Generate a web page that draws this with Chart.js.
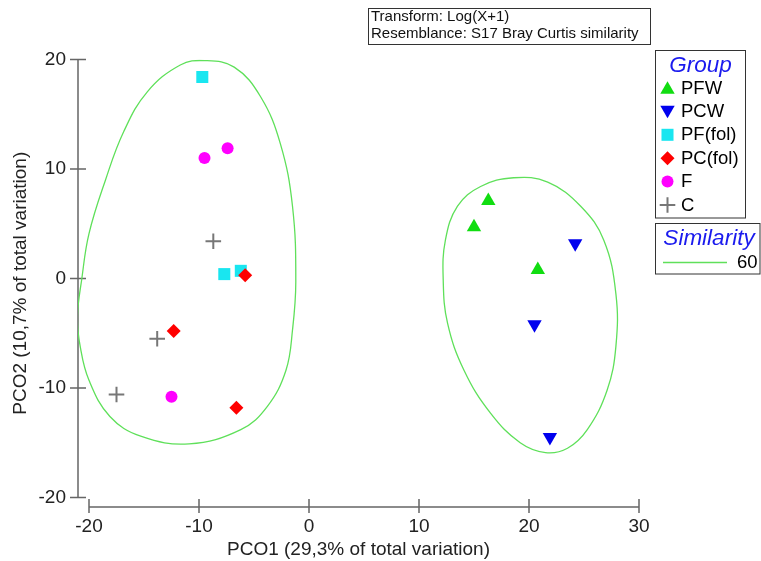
<!DOCTYPE html>
<html>
<head>
<meta charset="utf-8">
<title>PCO ordination</title>
<script src="https://cdn.jsdelivr.net/npm/chart.js@4.4.1/dist/chart.umd.min.js"></script>
<style>
  html, body { margin: 0; padding: 0; background: #fff; }
  #wrap { width: 761px; height: 561px; }
</style>
</head>
<body>
<div id="wrap"><canvas id="pco_chart" width="761" height="561"></canvas></div>
<script>
/* samples per group, [PCO1, PCO2] */
var groupNames = ['PFW', 'PCW', 'PF(fol)', 'PC(fol)', 'F', 'C'];
var pfwPoints = [[16.3, 7.1], [15.0, 4.7], [20.8, 0.8]];
var pcwPoints = [[24.2, 3.2], [20.5, -4.2], [21.9, -14.5]];
var pfFolPoints = [[-9.7, 18.4], [-7.7, 0.4], [-6.2, 0.7]];
var pcFolPoints = [[-5.8, 0.3], [-12.3, -4.8], [-6.6, -11.8]];
var fPoints = [[-9.5, 11.0], [-7.4, 11.9], [-12.5, -10.8]];
var cPoints = [[-8.7, 3.4], [-13.8, -5.5], [-17.5, -10.6]];

/* similarity contour (60) outlines, closed */
var contourLevel = 60;
var contourLeft = [[-9.5, 19.9], [-6.8, 19.3], [-4.4, 16.6], [-2.6, 12.3], [-1.5, 6.6], [-1.2, -0.3],
                   [-1.5, -4.7], [-2.1, -8.4], [-3.8, -11.7], [-6.2, -13.8], [-10.9, -15.1], [-15.3, -14.4],
                   [-18.1, -12.6], [-20.0, -9.3], [-20.8, -6.2], [-21.05, -3.5], [-20.65, 0.0], [-20.0, 4.1],
                   [-18.5, 9.0], [-16.85, 13.4], [-14.7, 17.05], [-11.7, 19.5]];
var contourRight = [[18.6, 9.2], [21.7, 8.8], [24.7, 6.6], [26.8, 3.5], [27.9, -1.4], [27.9, -6.2],
                    [27.1, -10.2], [25.3, -13.8], [23.5, -15.5], [21.5, -15.9], [19.2, -15.0], [16.5, -12.3],
                    [14.1, -8.4], [12.6, -4.1], [12.2, -0.1], [12.4, 3.5], [13.5, 6.6], [15.6, 8.4]];

var xTickValues = [-20, -10, 0, 10, 20, 30];
var yTickValues = [-20, -10, 0, 10, 20];
var infoLines = ['Transform: Log(X+1)', 'Resemblance: S17 Bray Curtis similarity'];

var fontFamily = "'Liberation Sans', Arial, sans-serif";
var contourColor = '#5fe05a';
var groupStyles = [
    { color: '#11dd11', pointStyle: 'triangle', radius: 8.3, rotation: 0, borderWidth: 0 },
    { color: '#0000ee', pointStyle: 'triangle', radius: 8.3, rotation: 180, borderWidth: 0 },
    { color: '#19e6f0', pointStyle: 'rect', radius: 8.5, rotation: 0, borderWidth: 0 },
    { color: '#ff0000', pointStyle: 'rectRot', radius: 7, rotation: 0, borderWidth: 0 },
    { color: '#ff00ff', pointStyle: 'circle', radius: 6, rotation: 0, borderWidth: 0 },
    { color: '#777777', pointStyle: 'cross', radius: 7.8, rotation: 0, borderWidth: 2 }
];
var groupPoints = [pfwPoints, pcwPoints, pfFolPoints, pcFolPoints, fPoints, cPoints];

function toXY(list) {
    return list.map(function (p) { return { x: p[0], y: p[1] }; });
}

// closed curve: wrap one point on each side and hide the two extra segments
function contourDataset(outline) {
    var n = outline.length;
    var pts = [outline[n - 1]].concat(outline, [outline[0], outline[1]]);
    var last = pts.length - 1;
    return {
        label: 'contour',
        data: toXY(pts),
        showLine: true,
        tension: 0.4,
        borderColor: contourColor,
        borderWidth: 1.3,
        pointRadius: 0,
        pointHoverRadius: 0,
        order: 20,
        segment: {
            borderColor: function (c) {
                return (c.p0DataIndex === 0 || c.p1DataIndex === last) ? 'rgba(0,0,0,0)' : undefined;
            }
        }
    };
}

// later groups drawn on top (higher order is drawn first)
var datasets = groupNames.map(function (name, i) {
    var s = groupStyles[i];
    return {
        label: name,
        data: toXY(groupPoints[i]),
        pointStyle: s.pointStyle,
        pointRadius: s.radius,
        pointHoverRadius: s.radius,
        pointRotation: s.rotation,
        pointBackgroundColor: s.color,
        pointBorderColor: s.color,
        pointBorderWidth: s.borderWidth,
        showLine: false,
        clip: false,
        order: groupNames.length - i
    };
});
datasets.push(contourDataset(contourLeft));
datasets.push(contourDataset(contourRight));

// axes are drawn detached, PRIMER style
var axisLinesPlugin = {
    id: 'axisLines',
    beforeDatasetsDraw: function (chart) {
        var ctx = chart.ctx, xs = chart.scales.x, ys = chart.scales.y;
        var ax = chart.chartArea.left, ay = chart.chartArea.bottom;
        ctx.save();
        ctx.strokeStyle = '#666666';
        ctx.lineWidth = 1.5;
        ctx.beginPath();
        ctx.moveTo(ax, ys.getPixelForValue(yTickValues[0]));
        ctx.lineTo(ax, ys.getPixelForValue(yTickValues[yTickValues.length - 1]));
        yTickValues.forEach(function (v) {
            var p = ys.getPixelForValue(v);
            ctx.moveTo(ax - 8, p);
            ctx.lineTo(ax + 8, p);
        });
        ctx.moveTo(xs.getPixelForValue(xTickValues[0]), ay);
        ctx.lineTo(xs.getPixelForValue(xTickValues[xTickValues.length - 1]), ay);
        xTickValues.forEach(function (v) {
            var p = xs.getPixelForValue(v);
            ctx.moveTo(p, ay - 8);
            ctx.lineTo(p, ay + 6);
        });
        ctx.stroke();
        ctx.restore();
    }
};

function drawMarker(ctx, s, x, y) {
    ctx.fillStyle = s.color;
    ctx.strokeStyle = s.color;
    ctx.lineWidth = s.borderWidth;
    Chart.helpers.drawPoint(ctx, { pointStyle: s.pointStyle, radius: s.radius, rotation: s.rotation, borderWidth: s.borderWidth }, x, y);
}

// info box, group legend and similarity legend
var boxesPlugin = {
    id: 'boxes',
    afterDraw: function (chart) {
        var ctx = chart.ctx;
        ctx.save();
        ctx.strokeStyle = '#333333';
        ctx.lineWidth = 1;

        // transform / resemblance
        ctx.strokeRect(368.5, 8.5, 282, 36);
        ctx.fillStyle = '#111111';
        ctx.font = '15px ' + fontFamily;
        ctx.textAlign = 'left';
        ctx.textBaseline = 'alphabetic';
        ctx.fillText(infoLines[0], 371, 21);
        ctx.fillText(infoLines[1], 371, 37.5);

        // group legend
        ctx.strokeRect(655.5, 50.5, 90, 167.5);
        ctx.fillStyle = '#1a1aee';
        ctx.font = 'italic 22.5px ' + fontFamily;
        ctx.textAlign = 'center';
        ctx.fillText('Group', 700.5, 71.5);
        ctx.font = '18.5px ' + fontFamily;
        ctx.textAlign = 'left';
        ctx.textBaseline = 'middle';
        groupNames.forEach(function (name, i) {
            var y = 88 + i * 23.4;
            drawMarker(ctx, groupStyles[i], 667.5, y + (groupStyles[i].pointStyle === 'triangle' ? (groupStyles[i].rotation ? -1.5 : 1.5) : 0));
            ctx.fillStyle = '#000000';
            ctx.fillText(name, 681, y + 0.5);
        });

        // similarity legend
        ctx.strokeStyle = '#333333';
        ctx.lineWidth = 1;
        ctx.strokeRect(655.5, 223.5, 104.5, 50.5);
        ctx.fillStyle = '#1a1aee';
        ctx.font = 'italic 22.5px ' + fontFamily;
        ctx.textAlign = 'center';
        ctx.textBaseline = 'alphabetic';
        ctx.fillText('Similarity', 709, 244.5);
        ctx.strokeStyle = contourColor;
        ctx.lineWidth = 1.5;
        ctx.beginPath();
        ctx.moveTo(663, 262.5);
        ctx.lineTo(727, 262.5);
        ctx.stroke();
        ctx.fillStyle = '#000000';
        ctx.font = '18.5px ' + fontFamily;
        ctx.textAlign = 'left';
        ctx.textBaseline = 'middle';
        ctx.fillText(String(contourLevel), 737, 263);
        ctx.restore();
    }
};

Chart.defaults.font.family = fontFamily;
Chart.defaults.font.size = 19;
Chart.defaults.color = '#222222';

var ctx = document.getElementById('pco_chart');
var pcoChart = new Chart(ctx, {
    type: 'scatter',
    data: { datasets: datasets },
    options: {
        responsive: false,
        animation: false,
        devicePixelRatio: 1,
        layout: { padding: { top: 59.5, right: 122, left: 0, bottom: 0 } },
        plugins: {
            legend: { display: false },
            tooltip: { enabled: false }
        },
        scales: {
            x: {
                type: 'linear',
                min: -21,
                max: 30,
                afterFit: function (s) { s.height = 54; },
                afterBuildTicks: function (s) { s.ticks = xTickValues.map(function (v) { return { value: v }; }); },
                grid: { display: false, drawTicks: false },
                border: { display: false },
                ticks: { padding: 8.5, maxRotation: 0, color: '#222222', font: { size: 19 } },
                title: {
                    display: true,
                    text: 'PCO1 (29,3% of total variation)',
                    color: '#222222',
                    font: { size: 19 },
                    padding: { top: 0, bottom: 0 }
                }
            },
            y: {
                type: 'linear',
                min: -20.87,
                max: 20,
                afterFit: function (s) { s.width = 78; },
                afterBuildTicks: function (s) { s.ticks = yTickValues.map(function (v) { return { value: v }; }); },
                grid: { display: false, drawTicks: false },
                border: { display: false },
                ticks: { padding: 12, color: '#222222', font: { size: 19 } },
                title: {
                    display: true,
                    text: 'PCO2 (10,7% of total variation)',
                    color: '#222222',
                    font: { size: 19 },
                    padding: { top: 9.6, bottom: 0 }
                }
            }
        }
    },
    plugins: [axisLinesPlugin, boxesPlugin]
});
</script>
</body>
</html>
